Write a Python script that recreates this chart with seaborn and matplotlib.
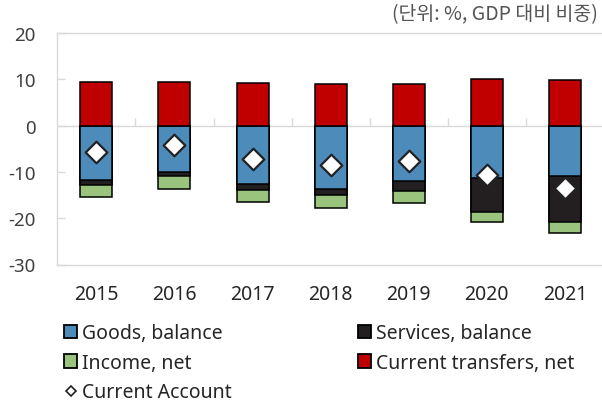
import numpy as np
import matplotlib
matplotlib.use("Agg")
import matplotlib.pyplot as plt
from matplotlib.patches import Patch
from matplotlib.lines import Line2D
import seaborn as sns

# Current account components, % of GDP
years = ["2015", "2016", "2017", "2018", "2019", "2020", "2021"]
goods = [-11.8, -10.0, -12.6, -13.6, -12.0, -11.3, -10.9]
services = [-1.1, -0.9, -1.25, -1.4, -2.2, -7.4, -10.0]
income = [-2.5, -2.8, -2.75, -2.7, -2.6, -2.2, -2.2]
transfers = [9.5, 9.5, 9.2, 8.95, 8.95, 10.0, 9.8]
current_account = [-5.7, -4.1, -7.2, -8.6, -7.7, -10.7, -13.4]

unit_note = "(단위: %, GDP 대비 비중)"
legend_labels = ["Goods, balance", "Services, balance", "Income, net",
                 "Current transfers, net", "Current Account"]
y_ticks = [-30, -20, -10, 0, 10, 20]

C_GOODS = "#4C8BBA"
C_SERV = "#231F20"
C_INC = "#9AC47E"
C_TRANS = "#C00000"
GRID = "#D9D9D9"

sns.set_theme(style="white")
plt.rcParams["font.family"] = ["Noto Sans", "Noto Sans CJK KR", "DejaVu Sans"]

fig = plt.figure(figsize=(6.02, 4.02), dpi=100)
ax = fig.add_axes([57.3 / 602, 1 - 265.5 / 402, 546.7 / 602, 231.5 / 402])

# stacked negatives drawn as overlapping cumulative bars
g = np.array(goods)
s = np.array(services)
inc = np.array(income)
neg_gs = g + s
neg_all = g + s + inc

bar_kw = dict(width=0.41, edgecolor="black", linewidth=1.1, ax=ax,
              saturation=1, errorbar=None)
sns.barplot(x=years, y=neg_all, color=C_INC, **bar_kw)
sns.barplot(x=years, y=neg_gs, color=C_SERV, **bar_kw)
sns.barplot(x=years, y=g, color=C_GOODS, **bar_kw)
sns.barplot(x=years, y=transfers, color=C_TRANS, **bar_kw)

# zero line and category separators
ax.axhline(0, color=GRID, lw=1.0, zorder=0.5)
ax.vlines(np.arange(len(years)) + 0.5, 0, 1.6, color=GRID, lw=1.0, zorder=0.5)

sns.stripplot(x=years, y=current_account, jitter=False, marker="D", size=11,
              color="white", edgecolor="#222222", linewidth=1.6, ax=ax,
              zorder=5)

ax.set_xlim(-0.5, 6.5)
ax.set_ylim(-30, 20)
ax.set_yticks(y_ticks)
ax.set_yticklabels([str(v) for v in y_ticks])
ax.tick_params(axis="y", direction="in", length=5.5, width=1.0, color=GRID,
               labelsize=13.5, labelcolor="#404040", pad=15.5, left=True)
ax.tick_params(axis="x", length=0, labelsize=14, labelcolor="#262626", pad=14)
ax.set_xlabel("")
ax.set_ylabel("")

for side in ["top", "left", "bottom"]:
    ax.spines[side].set_visible(True)
    ax.spines[side].set_color(GRID)
    ax.spines[side].set_linewidth(1.0)
ax.spines["right"].set_visible(False)

fig.text(598 / 602, 1 - 15 / 402, unit_note, ha="right", va="center",
         fontsize=14, color="#555555",
         family=["Noto Sans CJK KR", "DejaVu Sans"])

handles = [
    Patch(facecolor=C_GOODS, edgecolor="black", linewidth=1.3),
    Patch(facecolor=C_INC, edgecolor="black", linewidth=1.3),
    Line2D([], [], marker="D", linestyle="none", markersize=5,
           markerfacecolor="white", markeredgecolor="#222222",
           markeredgewidth=1.2),
    Patch(facecolor=C_SERV, edgecolor="black", linewidth=1.3),
    Patch(facecolor=C_TRANS, edgecolor="black", linewidth=1.3),
]
labels = [legend_labels[0], legend_labels[2], legend_labels[4],
          legend_labels[1], legend_labels[3]]
leg = fig.legend(handles, labels, loc="upper left",
                 bbox_to_anchor=(64 / 602, 1 - 324 / 402), ncol=2,
                 frameon=False, fontsize=14, handlelength=0.68,
                 handleheight=0.68, handletextpad=0.25, labelspacing=0.5,
                 columnspacing=6.5, borderpad=0, borderaxespad=0)
for t in leg.get_texts():
    t.set_color("#262626")

fig.savefig("out.png", dpi=100)
